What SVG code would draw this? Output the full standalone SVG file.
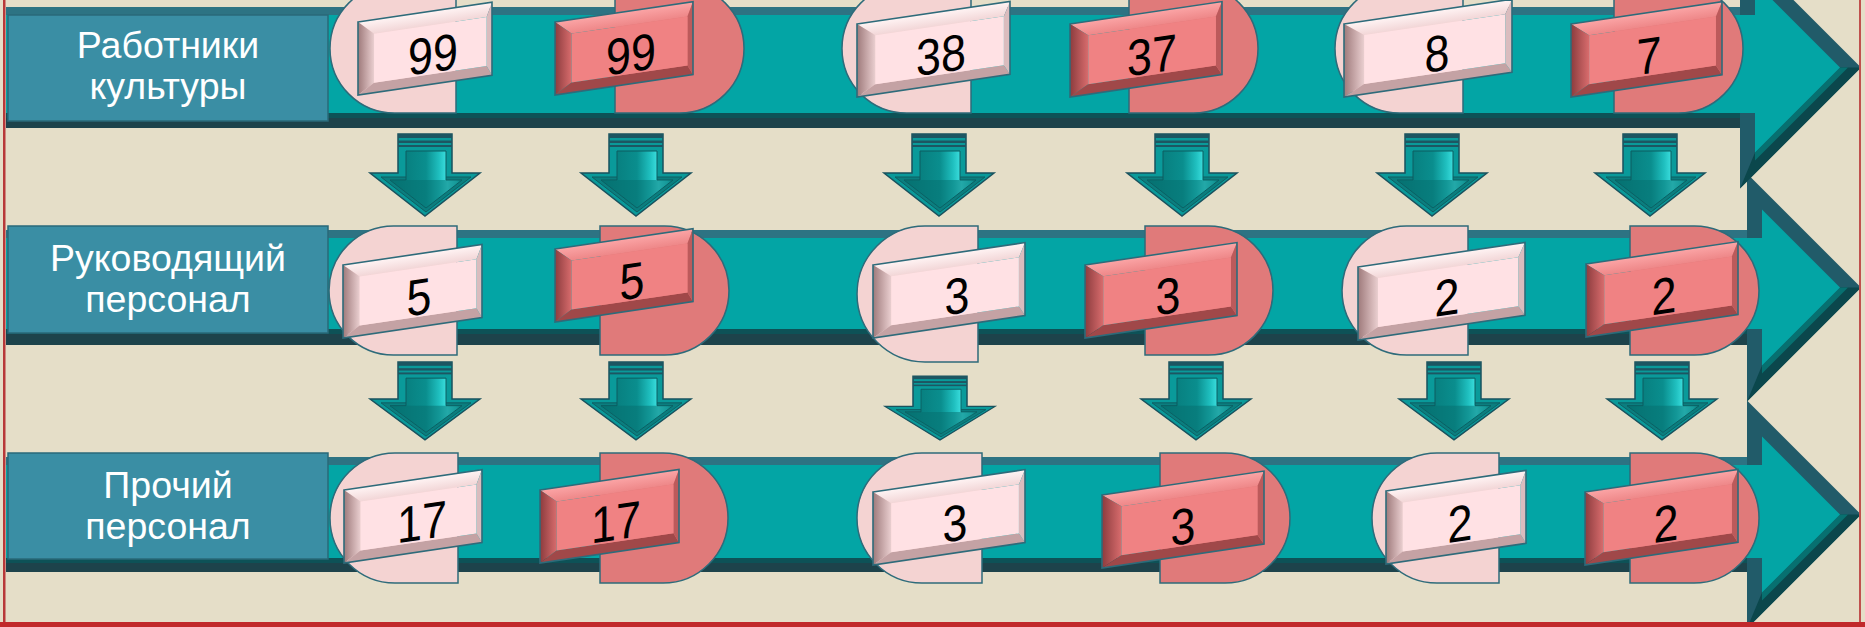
<svg xmlns="http://www.w3.org/2000/svg" width="1865" height="627" viewBox="0 0 1865 627">
<defs>
<style>
.lbl{font-family:"Liberation Sans",Arial,sans-serif;font-size:37.5px;fill:#ffffff;text-anchor:middle}
.num{font-family:"Liberation Sans",Arial,sans-serif;font-size:51px;fill:#000000;text-anchor:middle}
.pl{fill:#F4D3D2;stroke:#2E6B7A;stroke-width:1.5}
.pd{fill:#E07A7A;stroke:#2E6B7A;stroke-width:1.5}
.box{fill:#3A8EA4;stroke:#2A6979;stroke-width:1.5}
.st{fill:#2D7383}
.tl{fill:#03A5A5}
.b1{fill:#0D5257}
.b2{fill:#1D434B}
.ho{fill:#215B69}
.hl{fill:#0B474C}
.hm{fill:#077070}
</style>
<linearGradient id="gTopL" x1="0" y1="0" x2="0" y2="1"><stop offset="0" stop-color="#FFF4F4"/><stop offset="1" stop-color="#F2D6D7"/></linearGradient>
<linearGradient id="gLeftL" x1="0" y1="0" x2="1" y2="0"><stop offset="0" stop-color="#9E7A7B"/><stop offset="1" stop-color="#EACFD0"/></linearGradient>
<linearGradient id="gTopD" x1="0" y1="0" x2="0" y2="1"><stop offset="0" stop-color="#FBA5A6"/><stop offset="1" stop-color="#EE8788"/></linearGradient>
<linearGradient id="gLeftD" x1="0" y1="0" x2="1" y2="0"><stop offset="0" stop-color="#8C3C3E"/><stop offset="1" stop-color="#D86C6D"/></linearGradient>
<linearGradient id="gAr" x1="0" y1="0" x2="1" y2="0"><stop offset="0" stop-color="#067575"/><stop offset="0.5" stop-color="#0A8E8E"/><stop offset="0.68" stop-color="#1FBFBF"/><stop offset="0.8" stop-color="#40E3E3"/><stop offset="0.92" stop-color="#26C5C5"/><stop offset="1" stop-color="#0A8E8E"/></linearGradient>
<symbol id="plL" viewBox="0 0 150 73" preserveAspectRatio="none" style="overflow:visible">
<polygon points="0,0 150,0 144,14 18,14" fill="url(#gTopL)"/>
<polygon points="0,0 18,14 18,63 0,73" fill="url(#gLeftL)"/>
<polygon points="0,73 18,63 144,63 150,73" fill="#C4A2A4"/>
<polygon points="150,0 150,73 144,63 144,14" fill="#DABCBE"/>
<rect x="18" y="14" width="126" height="49" fill="#FFE1E4"/>
<rect x="0" y="0" width="150" height="73" fill="none" stroke="#2E6B7A" stroke-width="1.6" vector-effect="non-scaling-stroke"/>
</symbol>
<symbol id="plD" viewBox="0 0 150 73" preserveAspectRatio="none" style="overflow:visible">
<polygon points="0,0 150,0 144,14 18,14" fill="url(#gTopD)"/>
<polygon points="0,0 18,14 18,63 0,73" fill="url(#gLeftD)"/>
<polygon points="0,73 18,63 144,63 150,73" fill="#A04849"/>
<polygon points="150,0 150,73 144,63 144,14" fill="#BC5A5B"/>
<rect x="18" y="14" width="126" height="49" fill="#F08283"/>
<rect x="0" y="0" width="150" height="73" fill="none" stroke="#2E6B7A" stroke-width="1.6" vector-effect="non-scaling-stroke"/>
</symbol>
<g id="dar">
<polygon points="-27,0 27,0 27,39 55,39 0,82 -55,39 -27,39" fill="#0A9A9A" stroke="#19525E" stroke-width="1.5"/>
<rect x="-27" y="0" width="54" height="4" fill="#1D5662"/>
<rect x="-27" y="6.5" width="54" height="2.5" fill="#1D5662"/>
<rect x="-27" y="11" width="54" height="2" fill="#1D5662"/>
<polygon points="-44,43 46,43 1,78" fill="#0B7E7F" stroke="#0E5E62" stroke-width="1"/>
<polygon points="-19,17 21,17 21,46 37,46 1,74 -35,46 -19,46" fill="url(#gAr)" stroke="#0C5C60" stroke-width="1"/>
<polygon points="-35,46 37,46 1,74" fill="#056E6E" opacity="0.5"/>
</g>
</defs>

<rect x="0" y="0" width="1865" height="627" fill="#E5DEC8"/>

<g id="bands">
<g id="band3">
<polygon class="ho" points="1747,400.5 1861,514.5 1747,628.5"/>
<polygon class="hl" points="1861,514.5 1747,628.5 1762,592.5 1840,514.5"/>
<polygon class="hm" points="1840,514.5 1848,514.5 1762,600.5 1762,592.5"/>
<polygon class="tl" points="1762,436.5 1840,514.5 1762,592.5"/>
<rect class="st" x="6" y="457" width="1741" height="8"/>
<rect class="tl" x="6" y="465" width="1761" height="93"/>
<rect class="b1" x="6" y="558" width="1741" height="5"/>
<rect class="b2" x="6" y="563" width="1741" height="9"/>
</g>
<g id="band2">
<polygon class="ho" points="1747,173.5 1861,287.5 1747,401.5"/>
<polygon class="hl" points="1861,287.5 1747,401.5 1762,365.5 1840,287.5"/>
<polygon class="hm" points="1840,287.5 1848,287.5 1762,373.5 1762,365.5"/>
<polygon class="tl" points="1762,209.5 1840,287.5 1762,365.5"/>
<rect class="st" x="6" y="230" width="1741" height="8"/>
<rect class="tl" x="6" y="238" width="1761" height="91"/>
<rect class="b1" x="6" y="329" width="1741" height="5"/>
<rect class="b2" x="6" y="334" width="1741" height="11"/>
</g>
<g id="band1">
<polygon class="ho" points="1740,-53.5 1861,67.5 1740,188.5"/>
<polygon class="hl" points="1861,67.5 1740,188.5 1755,152.5 1840,67.5"/>
<polygon class="hm" points="1840,67.5 1848,67.5 1755,160.5 1755,152.5"/>
<polygon class="tl" points="1755,-17.5 1840,67.5 1755,152.5"/>
<rect class="st" x="6" y="7" width="1734" height="8"/>
<rect class="tl" x="6" y="15" width="1754" height="98"/>
<rect class="b1" x="6" y="113" width="1734" height="5"/>
<rect class="b2" x="6" y="118" width="1734" height="10"/>
</g>
</g>

<g id="label1"><rect class="box" x="8" y="15" width="320" height="106"/><text class="lbl" x="168" y="58">Работники</text><text class="lbl" x="168" y="99">культуры</text></g>
<g id="label2"><rect class="box" x="8" y="226" width="320" height="107"/><text class="lbl" x="168" y="271">Руководящий</text><text class="lbl" x="168" y="312">персонал</text></g>
<g id="label3"><rect class="box" x="8" y="453" width="320" height="106"/><text class="lbl" x="168" y="498">Прочий</text><text class="lbl" x="168" y="539">персонал</text></g>

<!-- Row 1 -->
<g id="r1c1"><path class="pl" d="M456,-16 L394.5,-16 A64.5,64.5 0 0 0 394.5,113 L456,113 Z"/><g transform="translate(358,22) skewY(-8.4)"><use href="#plL" width="134" height="73"/><text class="num" transform="translate(75,61) scale(0.88,1)">99</text></g></g>
<g id="r1c2"><path class="pd" d="M615,-16 L679.5,-16 A64.5,64.5 0 0 1 679.5,113 L615,113 Z"/><g transform="translate(555,22) skewY(-8.4)"><use href="#plD" width="138" height="73"/><text class="num" transform="translate(76,61) scale(0.88,1)">99</text></g></g>
<g id="r1c3"><path class="pl" d="M971,-16 L906.5,-16 A64.5,64.5 0 0 0 906.5,113 L971,113 Z"/><g transform="translate(857,24) skewY(-8.4)"><use href="#plL" width="153" height="73"/><text class="num" transform="translate(84,61) scale(0.88,1)">38</text></g></g>
<g id="r1c4"><path class="pd" d="M1129,-16 L1193.5,-16 A64.5,64.5 0 0 1 1193.5,113 L1129,113 Z"/><g transform="translate(1070,24) skewY(-8.4)"><use href="#plD" width="152" height="73"/><text class="num" transform="translate(82,61) scale(0.88,1)">37</text></g></g>
<g id="r1c5"><path class="pl" d="M1463,-16 L1399.5,-16 A64.5,64.5 0 0 0 1399.5,113 L1463,113 Z"/><g transform="translate(1344,24) skewY(-8.4)"><use href="#plL" width="168" height="73"/><text class="num" transform="translate(93,61) scale(0.88,1)">8</text></g></g>
<g id="r1c6"><path class="pd" d="M1614,-16 L1678.5,-16 A64.5,64.5 0 0 1 1678.5,113 L1614,113 Z"/><g transform="translate(1571,24) skewY(-8.4)"><use href="#plD" width="151" height="73"/><text class="num" transform="translate(78,61) scale(0.88,1)">7</text></g></g>

<!-- Row 2 -->
<g id="r2c1"><path class="pl" d="M457,226 L393.5,226 A64.5,64.5 0 0 0 393.5,355 L457,355 Z"/><g transform="translate(343,265) skewY(-8.4)"><use href="#plL" width="139" height="73"/><text class="num" transform="translate(76,61) scale(0.88,1)">5</text></g></g>
<g id="r2c2"><path class="pd" d="M600,226 L664.5,226 A64.5,64.5 0 0 1 664.5,355 L600,355 Z"/><g transform="translate(555,249) skewY(-8.4)"><use href="#plD" width="138" height="73"/><text class="num" transform="translate(77,61) scale(0.88,1)">5</text></g></g>
<g id="r2c3"><path class="pl" d="M978,226 L925,226 A68,68 0 0 0 925,362 L978,362 Z"/><g transform="translate(873,265) skewY(-8.4)"><use href="#plL" width="152" height="73"/><text class="num" transform="translate(84,61) scale(0.88,1)">3</text></g></g>
<g id="r2c4"><path class="pd" d="M1145,226 L1208.5,226 A64.5,64.5 0 0 1 1208.5,355 L1145,355 Z"/><g transform="translate(1085,265) skewY(-8.4)"><use href="#plD" width="152" height="73"/><text class="num" transform="translate(83,61) scale(0.88,1)">3</text></g></g>
<g id="r2c5"><path class="pl" d="M1468,226 L1406.5,226 A64.5,64.5 0 0 0 1406.5,355 L1468,355 Z"/><g transform="translate(1358,267) skewY(-8.4)"><use href="#plL" width="167" height="73"/><text class="num" transform="translate(89,61) scale(0.88,1)">2</text></g></g>
<g id="r2c6"><path class="pd" d="M1630,226 L1694.5,226 A64.5,64.5 0 0 1 1694.5,355 L1630,355 Z"/><g transform="translate(1586,264) skewY(-8.4)"><use href="#plD" width="152" height="73"/><text class="num" transform="translate(78,61) scale(0.88,1)">2</text></g></g>

<!-- Row 3 -->
<g id="r3c1"><path class="pl" d="M458,453 L395,453 A65,65 0 0 0 395,583 L458,583 Z"/><g transform="translate(344,490) skewY(-8.4)"><use href="#plL" width="138" height="73"/><text class="num" transform="translate(78,61) scale(0.88,1)">17</text></g></g>
<g id="r3c2"><path class="pd" d="M600,453 L663,453 A65,65 0 0 1 663,583 L600,583 Z"/><g transform="translate(540,490) skewY(-8.4)"><use href="#plD" width="139" height="73"/><text class="num" transform="translate(76,61) scale(0.88,1)">17</text></g></g>
<g id="r3c3"><path class="pl" d="M982,453 L922,453 A65,65 0 0 0 922,583 L982,583 Z"/><g transform="translate(873,492) skewY(-8.4)"><use href="#plL" width="152" height="73"/><text class="num" transform="translate(82,61) scale(0.88,1)">3</text></g></g>
<g id="r3c4"><path class="pd" d="M1160,453 L1225,453 A65,65 0 0 1 1225,583 L1160,583 Z"/><g transform="translate(1102,495) skewY(-8.4)"><use href="#plD" width="162" height="73"/><text class="num" transform="translate(81,61) scale(0.88,1)">3</text></g></g>
<g id="r3c5"><path class="pl" d="M1499,453 L1437,453 A65,65 0 0 0 1437,583 L1499,583 Z"/><g transform="translate(1386,491) skewY(-8.4)"><use href="#plL" width="140" height="73"/><text class="num" transform="translate(74,61) scale(0.88,1)">2</text></g></g>
<g id="r3c6"><path class="pd" d="M1630,453 L1694,453 A65,65 0 0 1 1694,583 L1630,583 Z"/><g transform="translate(1585,492) skewY(-8.4)"><use href="#plD" width="153" height="73"/><text class="num" transform="translate(81,61) scale(0.88,1)">2</text></g></g>

<g id="connectors">
<use href="#dar" transform="translate(425,134)"/>
<use href="#dar" transform="translate(636,134)"/>
<use href="#dar" transform="translate(939,134)"/>
<use href="#dar" transform="translate(1182,134)"/>
<use href="#dar" transform="translate(1432,134)"/>
<use href="#dar" transform="translate(1650,134)"/>
<use href="#dar" transform="translate(425,362) scale(1,0.95)"/>
<use href="#dar" transform="translate(636,362) scale(1,0.95)"/>
<use href="#dar" transform="translate(940,376) scale(1,0.78)"/>
<use href="#dar" transform="translate(1196,362) scale(1,0.95)"/>
<use href="#dar" transform="translate(1454,362) scale(1,0.95)"/>
<use href="#dar" transform="translate(1662,362) scale(1,0.95)"/>
</g>

<g id="frame">
<rect x="3" y="0" width="2.5" height="627" fill="#B8393A"/>
<rect x="1859" y="0" width="2" height="627" fill="#C0504D"/>
<rect x="0" y="622" width="1865" height="5" fill="#C1292B"/>
</g>
</svg>
